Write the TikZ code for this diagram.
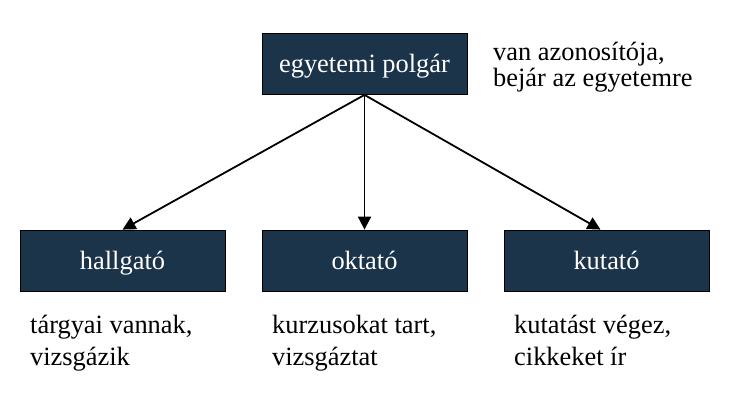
\documentclass[tikz,border=0pt]{standalone}
\usepackage{fontspec}
\setmainfont{Liberation Serif}
\usetikzlibrary{arrows.meta}
\definecolor{boxnavy}{HTML}{1B3449}
\begin{document}
\begin{tikzpicture}[x=1pt,y=-1pt,
  rolebox/.style={draw=black,line width=0.8pt,fill=boxnavy,text=white,
    minimum width=205pt,minimum height=61pt,inner sep=0pt,
    text height=18pt,text depth=0pt,
    font=\fontsize{26.4}{30}\selectfont},
  note/.style={align=left,inner sep=0pt,anchor=base west,text=black},
  link/.style={line width=1.8pt,-{Triangle[length=13pt,width=13pt]}}]
\useasboundingbox (0,0) rectangle (747,409);
\node[rolebox] (polgar) at (364.5,64) {egyetemi polgár};
\node[rolebox] (hallgato) at (122.5,260.5) {hallgató};
\node[rolebox] (oktato) at (364.5,260.5) {oktató};
\node[rolebox] (kutato) at (606.5,260.5) {kutató};
\node[note,font=\fontsize{26.4}{26}\selectfont] (polgarnote) at (493,86.7) {van azonosítója,\\bejár az egyetemre};
\node[note,font=\fontsize{26.4}{32}\selectfont] (hallgatonote) at (30,365) {tárgyai vannak,\\vizsgázik};
\node[note,font=\fontsize{26.4}{32}\selectfont] (oktatonote) at (272,365) {kurzusokat tart,\\vizsgáztat};
\node[note,font=\fontsize{26.4}{32}\selectfont] (kutatonote) at (514,365) {kutatást végez,\\cikkeket ír};
\draw[link] (polgar.south) -- (hallgato.north);
\draw[link] (polgar.south) -- (oktato.north);
\draw[link] (polgar.south) -- ([xshift=-6pt]kutato.north);
\end{tikzpicture}
\end{document}
